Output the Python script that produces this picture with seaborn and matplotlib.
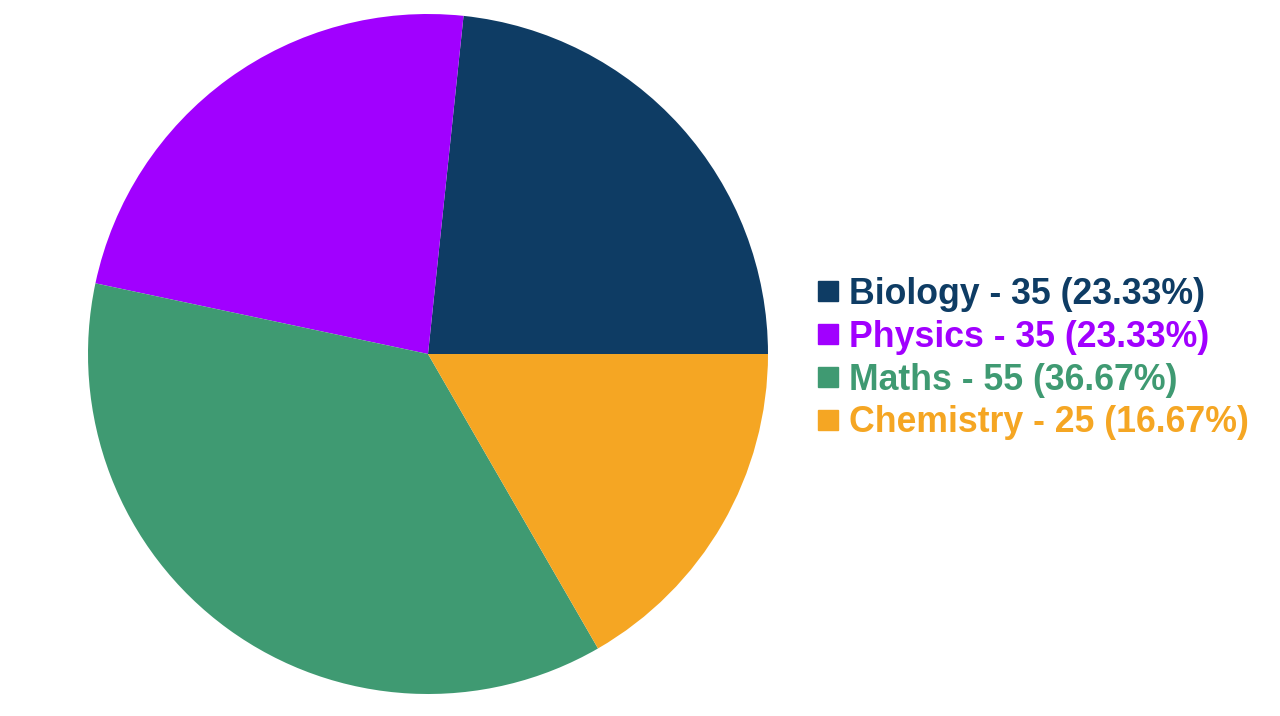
import matplotlib
matplotlib.use("Agg")
import matplotlib.pyplot as plt
import seaborn as sns
from matplotlib.lines import Line2D

sns.set_theme(style="white")
plt.rcParams['font.family'] = ['Liberation Sans', 'DejaVu Sans']

subjects = ["Biology", "Physics", "Maths", "Chemistry"]
counts = [35, 35, 55, 25]
colors = ["#0e3c64", "#a100ff", "#3f9a72", "#f5a623"]

total = sum(counts)
labels = [f"{s} - {c} ({c / total * 100:.2f}%)" for s, c in zip(subjects, counts)]

fig = plt.figure(figsize=(12.8, 7.16), dpi=100)
cx, cy, r = 428, 354, 340
ax = fig.add_axes([(cx - r) / 1280, (716 - cy - r) / 716, 2 * r / 1280, 2 * r / 716])
ax.pie(counts, colors=colors, startangle=0, counterclock=True, radius=1,
       wedgeprops=dict(linewidth=0))
ax.set_xlim(-1, 1)
ax.set_ylim(-1, 1)
ax.set_aspect("equal")
ax.axis("off")

handles = [Line2D([0], [0], marker='s', linestyle='', markersize=15,
                  markerfacecolor=c, markeredgecolor=c) for c in colors]
leg = fig.legend(handles, labels, loc="center left",
                 bbox_to_anchor=(817 / 1280, 0.499), frameon=False,
                 prop=dict(size=25.7, weight="bold"), borderpad=0, borderaxespad=0,
                 handlelength=0.6, handletextpad=0.31, labelspacing=0.22)
for t, c in zip(leg.get_texts(), colors):
    t.set_color(c)

fig.savefig("out.png", dpi=100, facecolor="white")
